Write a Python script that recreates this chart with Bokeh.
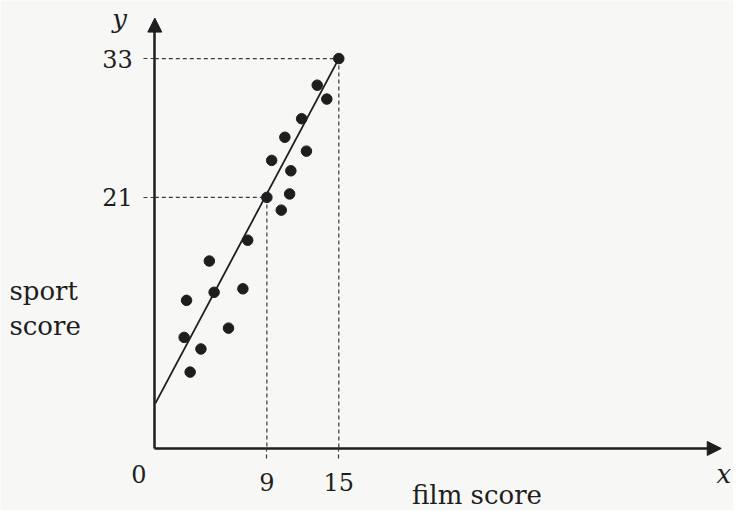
from bokeh.plotting import figure
from bokeh.models import (Range1d, LinearAxis, FixedTicker, Arrow, NormalHead, Label,
                          ColumnDataSource)
from bokeh.embed import file_html
from bokeh.resources import INLINE

# ---- data ----
film_score = [15, 13.2, 14.0, 11.9, 10.5, 12.3, 9.4, 11.0, 10.9, 9, 10.2,
              7.4, 4.2, 7.0, 4.6, 2.3, 5.8, 2.1, 3.5, 2.6]
sport_score = [33, 30.7, 29.5, 27.8, 26.2, 25.0, 24.2, 23.3, 21.3, 21, 19.9,
               17.3, 15.5, 13.1, 12.8, 12.1, 9.7, 8.9, 7.9, 5.9]
line_x = [-0.3, 15]
line_y = [3.2, 33]
read_x = [9, 15]
read_y = [21, 33]
x_ticks = [9, 15]
y_ticks = [21, 33]

INK = "#1e1e1e"
BG = "#f7f7f5"
FONT = "DejaVu Serif"

# axis origin as drawn (slightly below/left of the data origin)
AX_X = -0.347
AX_Y = -0.70
X_TIP = 46.9
Y_TIP = 36.5

p = figure(width=733, height=510,
           x_range=Range1d(-13.218, 47.922), y_range=Range1d(-6.064, 38.02),
           x_axis_type=None, y_axis_type=None,
           toolbar_location=None, output_backend="svg", min_border=0)
p.grid.visible = False
p.outline_line_color = None
p.background_fill_color = BG
p.border_fill_color = BG

# axes
xax = LinearAxis(fixed_location=AX_Y, bounds=(AX_X, X_TIP - 0.8),
                 ticker=FixedTicker(ticks=x_ticks))
yax = LinearAxis(fixed_location=AX_X, bounds=(AX_Y, Y_TIP - 0.8),
                 ticker=FixedTicker(ticks=y_ticks))
for ax in (xax, yax):
    ax.axis_line_color = INK
    ax.axis_line_width = 2.5
    ax.major_tick_in = 0
    ax.major_tick_line_color = "#3a3a3a"
    ax.major_tick_line_width = 1.2
    ax.major_tick_line_dash = "4 3"
    ax.minor_tick_line_color = None
    ax.major_label_text_font = FONT
    ax.major_label_text_font_size = "24px"
    ax.major_label_text_color = INK
xax.major_tick_out = 10
xax.major_label_standoff = 15
yax.major_tick_out = 11
yax.major_label_standoff = 11
p.add_layout(xax, "below")
p.add_layout(yax, "left")

# arrow heads
p.add_layout(Arrow(end=NormalHead(size=14, fill_color=INK, line_color=INK),
                   x_start=AX_X, y_start=AX_Y, x_end=X_TIP, y_end=AX_Y,
                   line_alpha=0))
p.add_layout(Arrow(end=NormalHead(size=14, fill_color=INK, line_color=INK),
                   x_start=AX_X, y_start=AX_Y, x_end=AX_X, y_end=Y_TIP,
                   line_alpha=0))

# dashed read-off lines
src = ColumnDataSource(dict(x=read_x, y=read_y))
p.segment(x0=AX_X, y0="y", x1="x", y1="y", source=src,
          line_color="#3a3a3a", line_width=1.2, line_dash="4 3")
p.segment(x0="x", y0="y", x1="x", y1=AX_Y, source=src,
          line_color="#3a3a3a", line_width=1.2, line_dash="4 3")

# regression line
p.line(line_x, line_y, line_color=INK, line_width=1.8)

# points
p.scatter(film_score, sport_score, size=10.5, fill_color=INK, line_color=INK)

# labels (data-space anchors, vertically centred)
def lab(text, x, y, size="26px", align="left", style="normal"):
    p.add_layout(Label(x=x, y=y, text=text,
                       text_font=FONT, text_font_size=size, text_color=INK,
                       text_align=align, text_baseline="middle",
                       text_font_style=style))

lab("sport", -12.476, 12.9)
lab("score", -12.476, 9.9)
lab("film score", 21.105, -4.72)
lab("y", -3.893, 36.45, style="italic")
lab("x", 46.504, -2.9, style="italic")
lab("0", -1.666, -2.95, size="24px", align="center")

open("out.html", "w").write(file_html(p, INLINE))
